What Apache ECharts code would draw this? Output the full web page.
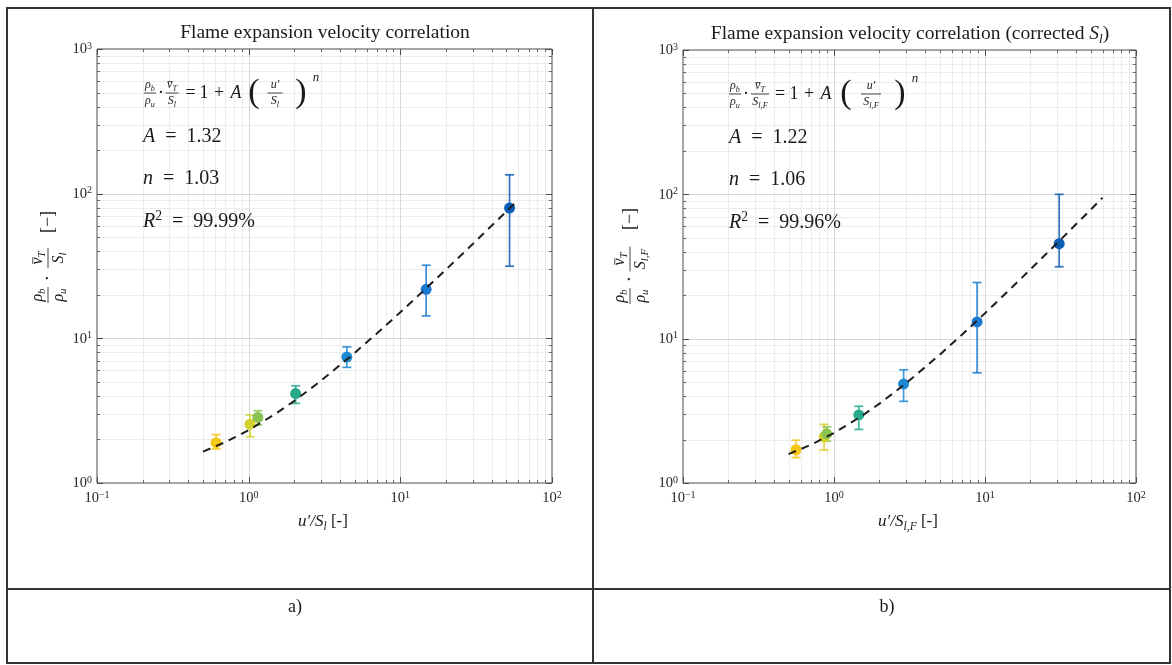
<!DOCTYPE html>
<html>
<head>
<meta charset="utf-8">
<script src="https://cdn.jsdelivr.net/npm/echarts@6/dist/echarts.min.js"></script>
<style>
  html, body { margin: 0; padding: 0; background: #ffffff; }
  #chart { width: 1172px; height: 665px; }
</style>
</head>
<body>
<div id="chart"></div>
<script>
// Panel a: flame expansion velocity vs. u'/S_l
const xA  = [0.61, 1.02, 1.15, 2.04, 4.44, 14.8, 52.5];
const yA  = [1.90, 2.55, 2.84, 4.15, 7.42, 21.8, 79.5];
const loA = [1.72, 2.09, 2.52, 3.55, 6.30, 14.3, 31.5];
const hiA = [2.16, 2.95, 3.16, 4.70, 8.72, 32.0, 135];

// Panel b: same data normalised with the corrected S_l,F
const xB  = [0.56, 0.86, 0.895, 1.46, 2.89, 8.86, 31.0];
const yB  = [1.70, 2.08, 2.19, 2.96, 4.86, 13.05, 45.5];
const loB = [1.50, 1.69, 1.95, 2.35, 3.68, 5.80, 31.5];
const hiB = [1.98, 2.55, 2.45, 3.40, 6.08, 24.5, 100];

// Fitted correlation curves (dashed)
const fitX = [0.5, 0.7, 1, 1.5, 2, 3, 5, 7, 10, 15, 20, 30, 45, 60];
const fitA = [1.646, 1.914, 2.32, 3.004, 3.695, 5.093, 7.926, 10.80, 15.14, 22.48, 29.88, 44.85, 67.58, 90.55];
const fitB = [1.585, 1.836, 2.22, 2.875, 3.544, 4.909, 7.718, 10.60, 15.01, 22.53, 30.21, 45.88, 70.0, 94.6];

// Case colours (yellow -> dark blue)
const pointColors = ['#f7c718', '#d3d12c', '#8ac350', '#27a98b', '#1b8ad3', '#1b79d1', '#0c5cb6'];

// Axis decades and their exponent labels
const xDecades = [0.1, 1, 10, 100];
const yDecades = [1, 10, 100, 1000];
const xTickExp = ['\u22121', '0', '1', '2'];
const yTickExp = ['0', '1', '2', '3'];
const minorMult = [2, 3, 4, 5, 6, 7, 8, 9];

const INK = '#1a1a1a';
const FONT = "'Liberation Serif', 'DejaVu Serif', serif";
const EQ = '\u2002=\u2002';

function rich(fs) {
  return {
    n:  { fontSize: fs, fontFamily: FONT, fontStyle: 'normal', lineHeight: fs * 1.25, verticalAlign: 'middle', color: INK },
    i:  { fontSize: fs, fontFamily: FONT, fontStyle: 'italic', lineHeight: fs * 1.25, verticalAlign: 'middle', color: INK },
    sb: { fontSize: fs * 0.68, fontFamily: FONT, fontStyle: 'italic', lineHeight: fs * 0.6, verticalAlign: 'bottom', color: INK },
    sp: { fontSize: fs * 0.68, fontFamily: FONT, fontStyle: 'normal', lineHeight: fs * 0.6, verticalAlign: 'top', color: INK }
  };
}

function txt(x, y, text, fs, align, vAlign, extra) {
  return Object.assign({
    type: 'text', x: x, y: y, z: 100, silent: true,
    style: { text: text, rich: rich(fs), fontSize: fs, fontFamily: FONT, fill: INK,
             align: align || 'center', verticalAlign: vAlign || 'middle' }
  }, extra || {});
}

function seg(x1, y1, x2, y2, w) {
  return { type: 'line', z: 100, silent: true, shape: { x1, y1, x2, y2 }, style: { stroke: INK, lineWidth: w || 0.8 } };
}

function frac(cx, cy, num, den, barW, fs, vbar) {
  const out = [
    txt(cx, cy - 0.5, num, fs, 'center', 'bottom'),
    seg(cx - barW / 2, cy, cx + barW / 2, cy),
    txt(cx, cy + 0.5, den, fs, 'center', 'top')
  ];
  if (vbar) {
    // bar over the velocity symbol
    const vx = cx - 0.17 * fs, vy = cy - 0.95 * fs;
    out.push(seg(vx - 0.2 * fs, vy, vx + 0.22 * fs, vy, 0.8));
  }
  return out;
}

// Text furniture of one panel (title, correlation, axis names)
function panelText(gx, gy, p) {
  const out = [];
  out.push(txt(gx + p.titleX, gy - 16, p.title, 19.5));

  const cy = gy + 44, F = 18, f = 12;
  const o = p.off;
  out.push(...frac(gx + o[0], cy, '{i|\u03c1}{sb|b}', '{i|\u03c1}{sb|u}', 12, f));
  out.push(txt(gx + o[1], cy, '{n|\u00b7}', F));
  out.push(...frac(gx + o[2], cy, '{i|v}{sb|T}', p.den, p.denW, f, true));
  out.push(txt(gx + o[3], cy, '{n|=}', F));
  out.push(txt(gx + o[4], cy, '{n|1}', F));
  out.push(txt(gx + o[5], cy, '{n|+}', F));
  out.push(txt(gx + o[6], cy, '{i|A}', F));
  out.push(txt(gx + o[7], cy, '{n|(}', 34));
  out.push(...frac(gx + o[8], cy, "{i|u\u2032}", p.den, p.denW + 2, f));
  out.push(txt(gx + o[9], cy, '{n|)}', 34));
  out.push(txt(gx + o[10], cy - 15, '{i|n}', 13));

  out.push(txt(gx + 46, gy + 88, '{i|A}{n|' + EQ + p.A + '}', 20, 'left'));
  out.push(txt(gx + 46, gy + 130, '{i|n}{n|' + EQ + p.n + '}', 20, 'left'));
  out.push(txt(gx + 46, gy + 173, '{i|R}{sp|2}{n|' + EQ + p.R2 + '}', 20, 'left'));

  // x-axis name
  out.push(txt(gx + p.xLabX, 522, p.xLab, 17));

  // y-axis name, reading upwards
  out.push({
    type: 'group', x: gx + p.yLabDx, y: gy + 208, rotation: Math.PI / 2, silent: true, z: 100,
    children: [
      ...frac(-38, 0, '{i|\u03c1}{sb|b}', '{i|\u03c1}{sb|u}', 16, 16),
      txt(-21, 0, '{n|\u00b7}', 19),
      ...frac(-1, 0, '{i|v}{sb|T}', p.den, p.denW + 7, 16, true),
      txt(p.bracketX, 0, '{n|[\u2212]}', 18)
    ]
  });
  return out;
}

function gridRender(xDec, yDec) {
  return function (params, api) {
    const cs = params.coordSys;
    const L = cs.x, R = cs.x + cs.width, T = cs.y, B = cs.y + cs.height;
    const minor = [], major = [];
    const ln = (arr, x1, y1, x2, y2, stroke) =>
      arr.push({ type: 'line', shape: { x1, y1, x2, y2 }, style: { stroke, lineWidth: 1 } });
    xDec.forEach((d, k) => {
      const px = Math.round(api.coord([d, yDec[0]])[0]) + 0.5;
      if (k > 0 && k < xDec.length - 1) ln(major, px, T, px, B, '#d6d6d6');
      ln(major, px, B, px, B - 6, '#4d4d4d');
      ln(major, px, T, px, T + 6, '#4d4d4d');
      if (k < xDec.length - 1) minorMult.forEach(m => {
        const qx = Math.round(api.coord([d * m, yDec[0]])[0]) + 0.5;
        ln(minor, qx, T, qx, B, '#ececec');
        ln(major, qx, B, qx, B - 3, '#666');
        ln(major, qx, T, qx, T + 3, '#666');
      });
    });
    yDec.forEach((d, k) => {
      const py = Math.round(api.coord([xDec[0], d])[1]) + 0.5;
      if (k > 0 && k < yDec.length - 1) ln(major, L, py, R, py, '#d6d6d6');
      ln(major, L, py, L + 6, py, '#4d4d4d');
      ln(major, R, py, R - 6, py, '#4d4d4d');
      if (k < yDec.length - 1) minorMult.forEach(m => {
        const qy = Math.round(api.coord([xDec[0], d * m])[1]) + 0.5;
        ln(minor, L, qy, R, qy, '#ececec');
        ln(major, L, qy, L + 3, qy, '#666');
        ln(major, R, qy, R - 3, qy, '#666');
      });
    });
    return { type: 'group', children: minor.concat(major) };
  };
}

function errRender(params, api) {
  const i = params.dataIndex;
  const a = api.coord([api.value(0), api.value(1)]);
  const b = api.coord([api.value(0), api.value(2)]);
  const c = pointColors[i], w = 4.5;
  const st = { stroke: c, lineWidth: 1.7, opacity: 0.85 };
  return { type: 'group', children: [
    { type: 'line', shape: { x1: a[0], y1: a[1], x2: b[0], y2: b[1] }, style: st },
    { type: 'line', shape: { x1: a[0] - w, y1: a[1], x2: a[0] + w, y2: a[1] }, style: st },
    { type: 'line', shape: { x1: b[0] - w, y1: b[1], x2: b[0] + w, y2: b[1] }, style: st }
  ] };
}

const tickRich = {
  b: { fontFamily: FONT, fontSize: 14.5, color: '#262626', lineHeight: 16, verticalAlign: 'bottom' },
  s: { fontFamily: FONT, fontSize: 10, color: '#262626', lineHeight: 8, verticalAlign: 'top' }
};

function xAxisFor(gi) {
  return {
    type: 'log', logBase: 10, gridIndex: gi, min: 0.1, max: 100, splitNumber: 3,
    axisLine: { show: false }, axisTick: { show: false }, splitLine: { show: false },
    axisLabel: {
      margin: 7, color: '#262626', rich: tickRich,
      formatter: v => '{b|10}{s|' + xTickExp[Math.round(Math.log10(v)) + 1] + '}'
    }
  };
}
function yAxisFor(gi) {
  return {
    type: 'log', logBase: 10, gridIndex: gi, min: 1, max: 1000, splitNumber: 3,
    axisLine: { show: false }, axisTick: { show: false }, splitLine: { show: false },
    axisLabel: {
      margin: 5, color: '#262626', rich: tickRich,
      formatter: v => '{b|10}{s|' + yTickExp[Math.round(Math.log10(v))] + '}'
    }
  };
}

function seriesFor(gi, xs, ys, lo, hi, fit) {
  return [
    { type: 'custom', xAxisIndex: gi, yAxisIndex: gi, z: 1, silent: true,
      renderItem: gridRender(xDecades, yDecades), data: [[1, 10]] },
    { type: 'custom', xAxisIndex: gi, yAxisIndex: gi, z: 3, silent: true,
      renderItem: errRender, encode: { x: 0, y: [1, 2] },
      data: xs.map((x, i) => [x, lo[i], hi[i]]) },
    { type: 'scatter', xAxisIndex: gi, yAxisIndex: gi, z: 4, symbolSize: 11, silent: true,
      data: xs.map((x, i) => ({ value: [x, ys[i]], itemStyle: { color: pointColors[i], opacity: 1 } })) },
    { type: 'line', xAxisIndex: gi, yAxisIndex: gi, z: 5, showSymbol: false, silent: true,
      lineStyle: { color: '#1e1e1e', width: 2, type: [8, 6] },
      data: fitX.map((x, i) => [x, fit[i]]) }
  ];
}

const gA = { left: 97, top: 49, width: 455, height: 434 };
const gB = { left: 683, top: 50, width: 453, height: 433 };

const graphics = [
  // table frame
  { type: 'rect', silent: true, z: 100, shape: { x: 7, y: 8, width: 1163, height: 655 },
    style: { fill: 'none', stroke: '#333', lineWidth: 2 } },
  { type: 'line', silent: true, z: 100, shape: { x1: 593, y1: 8, x2: 593, y2: 663 }, style: { stroke: '#333', lineWidth: 2 } },
  { type: 'line', silent: true, z: 100, shape: { x1: 7, y1: 589, x2: 1170, y2: 589 }, style: { stroke: '#333', lineWidth: 2 } },
  txt(295, 607, '{n|a)}', 18),
  txt(887, 607, '{n|b)}', 18),
  ...panelText(gA.left, gA.top, {
    title: '{n|Flame expansion velocity correlation}', titleX: 228,
    off: [53, 64, 75, 93.5, 107, 122, 139, 157, 178, 204, 219],
    den: '{i|S}{sb|l}', denW: 13,
    A: '1.32', n: '1.03', R2: '99.99%',
    xLab: '{i|u\u2032/S}{sb|l}{n| [-]}', xLabX: 226,
    yLabDx: -49, bracketX: 35
  }),
  ...panelText(gB.left, gB.top, {
    title: '{n|Flame expansion velocity correlation (corrected }{i|S}{sb|l}{n|)}', titleX: 227,
    off: [52, 63, 77, 97, 111, 126, 143, 163, 188, 217, 232],
    den: '{i|S}{sb|l,F}', denW: 18,
    A: '1.22', n: '1.06', R2: '99.96%',
    xLab: '{i|u\u2032/S}{sb|l,F}{n| [-]}', xLabX: 225,
    yLabDx: -53, bracketX: 39
  })
];

const chart = echarts.init(document.getElementById('chart'), null, { renderer: 'canvas' });
chart.setOption({
  animation: false,
  backgroundColor: '#ffffff',
  grid: [
    Object.assign({ show: true, borderColor: '#4d4d4d', borderWidth: 1, backgroundColor: 'transparent' }, gA),
    Object.assign({ show: true, borderColor: '#4d4d4d', borderWidth: 1, backgroundColor: 'transparent' }, gB)
  ],
  xAxis: [xAxisFor(0), xAxisFor(1)],
  yAxis: [yAxisFor(0), yAxisFor(1)],
  series: [
    ...seriesFor(0, xA, yA, loA, hiA, fitA),
    ...seriesFor(1, xB, yB, loB, hiB, fitB)
  ],
  graphic: graphics
});
</script>
</body>
</html>
